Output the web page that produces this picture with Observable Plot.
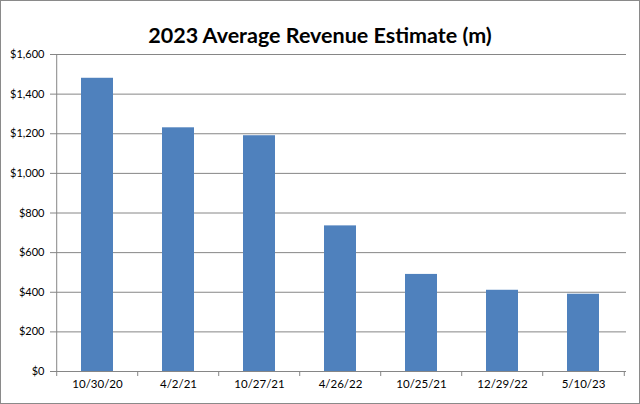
<!DOCTYPE html>
<html><head><meta charset="utf-8">
<script src="https://cdn.jsdelivr.net/npm/d3@7"></script>
<script src="https://cdn.jsdelivr.net/npm/@observablehq/plot@0.6"></script>
<style>
html,body{margin:0;padding:0;background:#fff;}
#wrap{position:relative;width:640px;height:404px;overflow:hidden;background:#fff;}
#title{position:absolute;left:0;top:22px;width:640px;text-align:center;font:bold 21.5px Lato, sans-serif;line-height:26px;color:#000;}
#frame{position:absolute;left:0;top:0;width:638px;height:402px;border:1px solid #8a8a8a;pointer-events:none;}
#chart{position:absolute;left:0;top:0;}
</style></head><body>
<div id="wrap"><div id="chart"></div><div id="title">2023 Average Revenue Estimate (m)</div><div id="frame"></div></div>
<script>
const dates = ["10/30/20","4/2/21","10/27/21","4/26/22","10/25/21","12/29/22","5/10/23"];
const revenue = [1480,1230,1190,735,490,410,390];
const yTicks = [0,200,400,600,800,1000,1200,1400,1600];
const data = dates.map((d,i)=>({date:d, value:revenue[i]}));
const W=640,H=404,ML=55,MR=14,MT=54,MB=33;
const step = (W-ML-MR)/dates.length;
const fmt = d3.format("$,");
const plot = Plot.plot({
  width:W,height:H,marginLeft:ML,marginRight:MR,marginTop:MT,marginBottom:MB,
  style:{fontFamily:"Lato, sans-serif", fontSize:"11px", color:"#000", background:"transparent"},
  x:{type:"band",domain:dates,paddingInner:0.6,paddingOuter:0.3,label:null},
  y:{domain:[0,1600],label:null},
  marks:[
    Plot.ruleY(yTicks,{stroke:"#868686",strokeWidth:1}),
    Plot.barY(data,{x:"date",y:"value",fill:"#4F81BD"}),
    Plot.ruleX([dates[0]],{dx:-step/2,y1:0,y2:1600,stroke:"#868686"}),
    Plot.ruleX(dates,{x:d=>d,dx:-step/2,y1:0,y2:0,insetBottom:-5,stroke:"#868686"}),
    Plot.ruleX([dates[dates.length-1]],{dx:step/2,y1:0,y2:0,insetBottom:-5,stroke:"#868686"}),
    Plot.axisY({ticks:yTicks,tickFormat:fmt,tickSize:5,tickPadding:6,stroke:"#868686",fill:"#000"}),
    Plot.axisX({tickSize:0,tickPadding:8,fill:"#000",fontSize:11.5})
  ]
});
document.getElementById("chart").appendChild(plot);
</script>
</body></html>
